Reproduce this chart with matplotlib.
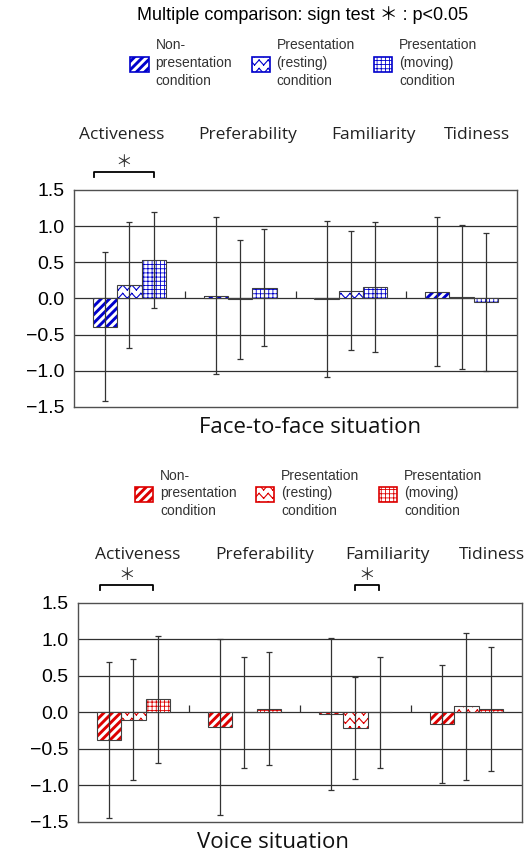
import warnings
import numpy as np
import matplotlib
matplotlib.use('Agg')
import matplotlib.pyplot as plt
from matplotlib import hatch as mhatch
from matplotlib.path import Path
from matplotlib.patches import Patch

warnings.filterwarnings('ignore')

categories = ['Activeness', 'Preferability', 'Familiarity', 'Tidiness']
conditions = ['Non-\npresentation\ncondition',
              'Presentation\n(resting)\ncondition',
              'Presentation\n(moving)\ncondition']

# face-to-face situation: means and SDs
face_non = [-0.39, 0.04, -0.01, 0.09]
face_rest = [0.19, -0.01, 0.11, 0.02]
face_move = [0.53, 0.15, 0.16, -0.05]
face_non_sd = [1.03, 1.09, 1.08, 1.03]
face_rest_sd = [0.87, 0.82, 0.82, 1.00]
face_move_sd = [0.66, 0.81, 0.90, 0.95]

# voice situation: means and SDs
voice_non = [-0.38, -0.20, -0.02, -0.16]
voice_rest = [-0.10, 0.00, -0.22, 0.08]
voice_move = [0.18, 0.05, 0.00, 0.04]
voice_non_sd = [1.07, 1.21, 1.04, 0.81]
voice_rest_sd = [0.83, 0.76, 0.70, 1.01]
voice_move_sd = [0.87, 0.77, 0.76, 0.85]

# significant pairs (bracket span in category units)
face_sig = [(-0.32, 0.22)]
voice_sig = [(-0.30, 0.18), (2.00, 2.21)]


# zigzag hatch used for the "resting" condition
# (each stroke is its own subpath so agg does not fill the teeth)
class ZigzagHatch(mhatch.HatchPatternBase):
    def __init__(self, hatch, density):
        self.num_rows = int(hatch.count('z') * density)
        self.num_teeth = 11
        self.num_vertices = self.num_rows * self.num_teeth * 4

    def set_vertices_and_codes(self, vertices, codes):
        xs = np.linspace(0, 1, 2 * self.num_teeth + 1)
        amp = 0.3 / self.num_rows
        k = 0
        for i in range(self.num_rows):
            y = (i + 0.5) / self.num_rows
            ys = [y + (amp if j % 2 else -amp) for j in range(len(xs))]
            for j in range(len(xs) - 1):
                vertices[k] = xs[j], ys[j]
                vertices[k + 1] = xs[j + 1], ys[j + 1]
                codes[k] = Path.MOVETO
                codes[k + 1] = Path.LINETO
                k += 2


mhatch._hatch_types.append(ZigzagHatch)

hatches = ['////', 'zz', '++++']
hatch_widths = [2.1, 0.8, 0.6]
edge = '#404040'
jp = ['Noto Sans CJK JP', 'DejaVu Sans']

plt.rcParams['font.family'] = ['Liberation Sans', 'DejaVu Sans']

fig = plt.figure(figsize=(5.26, 8.55), dpi=100)


def draw_panel(ax, means, sds, color, sig, label_x, label_y, title, title_x):
    x = np.arange(len(categories))
    w = 0.22
    for i in range(3):
        with plt.rc_context({'hatch.linewidth': hatch_widths[i]}):
            ax.bar(x + (i - 1) * w, means[i], w, color='white', edgecolor=color,
                   hatch=hatches[i], linewidth=0, zorder=3)
        ax.bar(x + (i - 1) * w, means[i], w, fill=False, edgecolor=edge,
               linewidth=0.8, zorder=4)
        ax.errorbar(x + (i - 1) * w, means[i], yerr=sds[i], fmt='none',
                    ecolor='#333333', elinewidth=0.9, capsize=2.5, capthick=0.9,
                    zorder=5)
    ax.set_xlim(-0.5, len(categories) - 0.5)
    ax.set_ylim(-1.5, 1.5)
    ax.set_yticks([-1.5, -1.0, -0.5, 0.0, 0.5, 1.0, 1.5])
    ax.set_yticklabels(['%.1f' % v if v >= 0 else '\u2212%.1f' % -v
                        for v in ax.get_yticks()], fontsize=14)
    ax.tick_params(axis='y', length=0, pad=7)
    ax.set_xticks([])
    for v in [-1.0, -0.5, 0.0, 0.5, 1.0]:
        ax.axhline(v, color='#303030', linewidth=0.9, zorder=1)
    ax.vlines(x[:-1] + 0.5, 0, 0.1, color='#303030', linewidth=0.9, zorder=1)
    for s in ax.spines.values():
        s.set_color('#505050')
        s.set_linewidth(1.0)
    for cx, name in zip(label_x, categories):
        ax.text(cx, label_y, name, transform=ax.get_xaxis_transform(),
                ha='center', va='center', fontsize=12.5, family='Open Sans',
                color='#222222')
    for x0, x1 in sig:
        ax.plot([x0, x0, x1, x1], [1.68, 1.75, 1.75, 1.68], color='black',
                linewidth=1.3, clip_on=False)
        ax.text((x0 + x1) / 2, 1.88, '\uff0a', ha='center', va='center',
                fontsize=12, family=jp, color='#333333', clip_on=False)
    ax.text(title_x, -0.095, title, transform=ax.transAxes, ha='center',
            va='center', fontsize=16, family='Open Sans', color='#111111')


ax1 = fig.add_axes([0.1407, 0.524, 0.8422, 0.2538])
draw_panel(ax1, [face_non, face_rest, face_move],
           [face_non_sd, face_rest_sd, face_move_sd], '#0000cc', face_sig,
           [-0.07, 1.07, 2.20, 3.14], 1.253, 'Face-to-face situation', 0.533)

ax2 = fig.add_axes([0.1483, 0.0389, 0.844, 0.2561])
draw_panel(ax2, [voice_non, voice_rest, voice_move],
           [voice_non_sd, voice_rest_sd, voice_move_sd], '#dd0000', voice_sig,
           [0.04, 1.18, 2.29, 3.23], 1.218, 'Voice situation', 0.44)

fig.text(0.575, 0.982, 'Multiple comparison: sign test \uff0a : p<0.05',
         ha='center', va='center', fontsize=13,
         family=['Liberation Sans', 'Noto Sans CJK JP', 'DejaVu Sans'])


def add_legend(color, anchor):
    handles = []
    for i in range(3):
        with plt.rc_context({'hatch.linewidth': hatch_widths[i]}):
            handles.append(Patch(facecolor='white', edgecolor=color,
                                 hatch=hatches[i], linewidth=1.2))
    leg = fig.legend(handles, conditions, loc='upper left', bbox_to_anchor=anchor,
                     ncol=3, frameon=False, fontsize=10, handlelength=1.3,
                     handleheight=1.3, handletextpad=0.5, columnspacing=1.4,
                     borderpad=0, borderaxespad=0)
    for t in leg.get_texts():
        t.set_linespacing(1.35)
        t.set_color('#333333')
    for p, hw in zip(leg.get_patches(), hatch_widths):
        p.set_edgecolor(color)
        if hasattr(p, 'set_hatch_linewidth'):
            p.set_hatch_linewidth(hw)
        else:
            p._hatch_linewidth = hw
    return leg


add_legend('#0000cc', (0.248, 0.955))
add_legend('#dd0000', (0.257, 0.452))

fig.savefig('out.png', dpi=100)
